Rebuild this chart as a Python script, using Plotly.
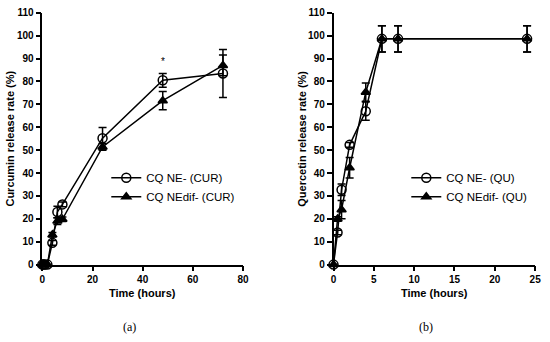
import plotly.graph_objects as go

W, H = 550, 342

# ---- data: panel (a) curcumin ----
t_cur = [0, 0.5, 1, 2, 4, 6, 8, 24, 48, 72]
cur_ne = [0, 0, 0, 0, 9.5, 23, 26.3, 55.2, 80.5, 83.5]
cur_ne_err = [0, 0, 0, 0, 1, 2.5, 1, 4.7, 3, 10.5]
cur_nedif = [0, 0, 0, 0, 13, 19, 19.8, 51.4, 71.6, 87]
cur_nedif_err = [0, 0, 0, 0, 1, 1.5, 1, 1.5, 4, 4.5]

# ---- data: panel (b) quercetin ----
t_qu = [0, 0.5, 1, 2, 4, 6, 8, 24]
qu_ne = [0, 14, 32.7, 52.3, 67, 98.6, 98.6, 98.6]
qu_ne_err = [0, 1, 2.5, 1, 4, 5.7, 5.7, 5.7]
qu_nedif = [0, 19.9, 24, 42.3, 75.3, 98.6, 98.6, 98.6]
qu_nedif_err = [0, 1, 4, 4.5, 4, 5.7, 5.7, 5.7]

names = ["CQ NE- (CUR)", "CQ NEdif- (CUR)", "CQ NE- (QU)", "CQ NEdif- (QU)"]

FONT = "Liberation Sans, Arial, sans-serif"

def px(x):
    return x / W

def py(y):
    return 1 - y / H

def trace(x, y, err, name, symbol, size, xa, ya, leg):
    return go.Scatter(
        x=x, y=y, name=name, mode="lines+markers",
        xaxis=xa, yaxis=ya, legend=leg, cliponaxis=False,
        line=dict(color="black", width=1.5),
        marker=dict(symbol=symbol, size=size, color="black",
                    line=dict(color="black", width=1.5)),
        error_y=dict(type="data", array=err, visible=True,
                     color="black", thickness=1.5, width=4),
    )

fig = go.Figure()
fig.add_trace(trace(t_cur, cur_ne, cur_ne_err, names[0], "circle-open", 9, "x", "y", "legend"))
fig.add_trace(trace(t_cur, cur_nedif, cur_nedif_err, names[1], "triangle-up", 8, "x", "y", "legend"))
fig.add_trace(trace(t_qu, qu_ne, qu_ne_err, names[2], "circle-open", 9, "x2", "y2", "legend2"))
fig.add_trace(trace(t_qu, qu_nedif, qu_nedif_err, names[3], "triangle-up", 8, "x2", "y2", "legend2"))

axis_common = dict(
    showline=True, linecolor="black", linewidth=1.5,
    ticks="outside", ticklen=5, tickwidth=1.5, tickcolor="black",
    showgrid=False, zeroline=False, ticklabeloverflow="allow",
    tickfont=dict(family=FONT, size=10, color="black", weight="bold"),
)

ydom = [py(268), py(7)]
fig.update_layout(
    width=W, height=H,
    margin=dict(l=0, r=0, t=0, b=0),
    paper_bgcolor="white", plot_bgcolor="white",
    xaxis=dict(domain=[px(40), px(244)], range=[0, 80], dtick=20, anchor="y", **axis_common),
    yaxis=dict(domain=ydom, range=[0, 110], dtick=10, anchor="x", **axis_common),
    xaxis2=dict(domain=[px(336), px(541)], range=[0, 25], dtick=5, anchor="y2", **axis_common),
    yaxis2=dict(domain=ydom, range=[0, 110], dtick=10, anchor="x2", **axis_common),
    legend=dict(x=px(105), y=py(163), xanchor="left", yanchor="top",
                bgcolor="rgba(0,0,0,0)", font=dict(family=FONT, size=11.5, color="black"),
                tracegroupgap=0),
    legend2=dict(x=px(410), y=py(163), xanchor="left", yanchor="top",
                 bgcolor="rgba(0,0,0,0)", font=dict(family=FONT, size=11.5, color="black"),
                 tracegroupgap=0),
    showlegend=True,
)

title_font = dict(family=FONT, size=11, color="black", weight="bold")
ann = [
    dict(text="Curcumin release rate (%)", x=px(7), y=py(137.5), textangle=-90),
    dict(text="Quercetin release rate (%)", x=px(304), y=py(137.5), textangle=-90),
    dict(text="Time (hours)", x=px(142), y=py(297)),
    dict(text="Time (hours)", x=px(439), y=py(297)),
]
for a in ann:
    fig.add_annotation(xref="paper", yref="paper", xanchor="center", yanchor="middle",
                       showarrow=False, font=title_font, **a)

serif = dict(family="Liberation Serif, Times New Roman, serif", size=12, color="black")
fig.add_annotation(text="(a)", x=px(129), y=py(333), xref="paper", yref="paper",
                   showarrow=False, font=serif, xanchor="center", yanchor="middle")
fig.add_annotation(text="(b)", x=px(430), y=py(333), xref="paper", yref="paper",
                   showarrow=False, font=serif, xanchor="center", yanchor="middle")
fig.add_annotation(text="*", x=48, y=88.5, xref="x", yref="y", showarrow=False,
                   font=dict(family=FONT, size=10, color="black"))

fig.write_html(
    "out.html",
    config={"displayModeBar": False},
    post_script="document.body.style.margin='0';document.body.style.overflow='hidden';",
)
